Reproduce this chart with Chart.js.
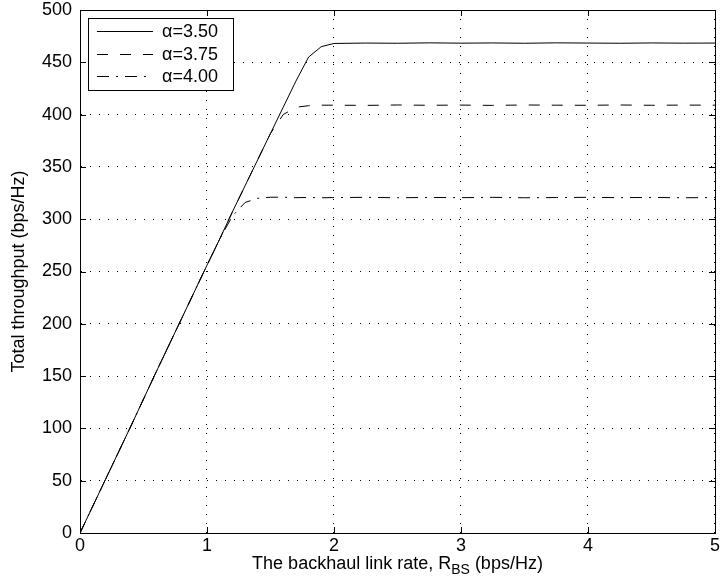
<!DOCTYPE html>
<html>
<head>
<meta charset="utf-8">
<script src="https://cdn.jsdelivr.net/npm/chart.js@4.4.1/dist/chart.umd.min.js"></script>
<style>
  html, body { margin: 0; padding: 0; background: #ffffff; }
</style>
</head>
<body>
<canvas id="chart" width="722" height="577"></canvas>
<script>
// backhaul link rate R_BS (bps/Hz)
var xValues = [0, 0.2, 0.4, 0.6, 0.8, 1.0, 1.1, 1.2, 1.3, 1.4, 1.5, 1.6, 1.7, 1.8, 1.9, 2.0,
               2.25, 2.5, 2.75, 3.0, 3.25, 3.5, 3.75, 4.0, 4.25, 4.5, 4.75, 5.0];
// total throughput (bps/Hz)
var alpha350 = [0, 51, 102, 154, 205, 256, 281, 307, 332, 357, 382, 407, 432, 455, 465, 468,
                468.4, 468.2, 468.6, 468.3, 468.5, 468.2, 468.6, 468.4, 468.2, 468.5, 468.3, 468.4];
var alpha375 = [0, 51, 102, 154, 205, 256, 281, 307, 332, 357, 382, 400, 407, 408.5, 409, 409,
                408.8, 409.2, 408.9, 409.1, 408.8, 409.2, 409, 408.9, 409.2, 408.9, 409.1, 409];
var alpha400 = [0, 51, 102, 154, 205, 256, 281, 303, 316, 320, 321, 321, 320.6, 320.8, 320.5, 320.7,
                320.9, 320.5, 320.8, 320.6, 320.9, 320.5, 320.7, 320.9, 320.6, 320.8, 320.5, 320.7];
var seriesLabels = ['\u03b1=3.50', '\u03b1=3.75', '\u03b1=4.00'];
var xTicks = [0, 1, 2, 3, 4, 5];
var yTicks = [0, 50, 100, 150, 200, 250, 300, 350, 400, 450, 500];

var FONT = '"Liberation Sans", Arial, sans-serif';
var FS = 18;

function pts(ys) {
  return xValues.map(function (x, i) { return { x: x, y: ys[i] }; });
}

var dashes = [[], [11, 12], [12, 7, 2, 7]];

var frame = {
  id: 'frame',
  afterDraw: function (chart) {
    var ctx = chart.ctx, a = chart.chartArea;
    var xs = chart.scales.x, ys = chart.scales.y;
    ctx.save();
    ctx.strokeStyle = '#000';
    ctx.lineWidth = 1;
    ctx.setLineDash([]);
    // box
    ctx.strokeRect(Math.round(a.left) + 0.5, Math.round(a.top) + 0.5,
                   Math.round(a.right - a.left), Math.round(a.bottom - a.top));
    // inward ticks on all sides
    ctx.beginPath();
    xTicks.forEach(function (v) {
      var px = Math.round(xs.getPixelForValue(v)) + 0.5;
      ctx.moveTo(px, a.bottom); ctx.lineTo(px, a.bottom - 6);
      ctx.moveTo(px, a.top); ctx.lineTo(px, a.top + 6);
    });
    yTicks.forEach(function (v) {
      var py = Math.round(ys.getPixelForValue(v)) + 0.5;
      ctx.moveTo(a.left, py); ctx.lineTo(a.left + 6, py);
      ctx.moveTo(a.right, py); ctx.lineTo(a.right - 6, py);
    });
    ctx.stroke();

    // legend
    var lx = 88, ly = 18, lw = 145, lh = 72;
    ctx.fillStyle = '#fff';
    ctx.fillRect(lx, ly, lw, lh);
    ctx.strokeRect(lx + 0.5, ly + 0.5, lw, lh);
    ctx.font = FS + 'px ' + FONT;
    ctx.textBaseline = 'middle';
    ctx.textAlign = 'left';
    chart.data.datasets.forEach(function (ds, i) {
      var ry = Math.round(ly + 13 + i * 22.5) + 0.5;
      ctx.setLineDash(ds.borderDash || []);
      ctx.beginPath();
      ctx.moveTo(97, ry); ctx.lineTo(153, ry);
      ctx.stroke();
      ctx.setLineDash([]);
      ctx.fillStyle = '#000';
      ctx.fillText(ds.label, 162, ry + 1);
    });

    // axis titles
    ctx.fillStyle = '#000';
    var main = 'The backhaul link rate, R';
    var sub = 'BS';
    var tail = ' (bps/Hz)';
    ctx.font = FS + 'px ' + FONT;
    var w1 = ctx.measureText(main).width, w3 = ctx.measureText(tail).width;
    ctx.font = Math.round(FS * 0.75) + 'px ' + FONT;
    var w2 = ctx.measureText(sub).width;
    var total = w1 + w2 + w3;
    var sx = (a.left + a.right) / 2 - total / 2;
    var by = 569;
    ctx.textBaseline = 'alphabetic';
    ctx.font = FS + 'px ' + FONT;
    ctx.fillText(main, sx, by);
    ctx.font = Math.round(FS * 0.75) + 'px ' + FONT;
    ctx.fillText(sub, sx + w1, by + 5);
    ctx.font = FS + 'px ' + FONT;
    ctx.fillText(tail, sx + w1 + w2, by);

    ctx.translate(24, (a.top + a.bottom) / 2);
    ctx.rotate(-Math.PI / 2);
    ctx.textAlign = 'center';
    ctx.fillText('Total throughput (bps/Hz)', 0, 0);
    ctx.restore();
  }
};

var gridOpts = { color: '#000', lineWidth: 1, drawTicks: false };

new Chart(document.getElementById('chart'), {
  type: 'line',
  data: {
    datasets: [
      { label: seriesLabels[0], data: pts(alpha350), borderDash: dashes[0] },
      { label: seriesLabels[1], data: pts(alpha375), borderDash: dashes[1] },
      { label: seriesLabels[2], data: pts(alpha400), borderDash: dashes[2] }
    ].map(function (d) {
      d.borderColor = '#000';
      d.borderWidth = 1;
      d.pointRadius = 0;
      d.tension = 0;
      d.fill = false;
      return d;
    })
  },
  options: {
    responsive: false,
    animation: false,
    devicePixelRatio: 1,
    layout: { padding: { top: 10, right: 6, left: 0, bottom: 0 } },
    plugins: { legend: { display: false }, tooltip: { enabled: false } },
    scales: {
      x: {
        type: 'linear', min: 0, max: 5,
        afterFit: function (s) { s.height = 44; },
        afterBuildTicks: function (s) { s.ticks = xTicks.map(function (v) { return { value: v }; }); },
        grid: gridOpts,
        border: { display: true, color: '#000', width: 1, dash: [1, 8] },
        ticks: { color: '#000', padding: 2, maxRotation: 0, font: { family: FONT, size: FS } }
      },
      y: {
        type: 'linear', min: 0, max: 500,
        afterFit: function (s) { s.width = 80; },
        afterBuildTicks: function (s) { s.ticks = yTicks.map(function (v) { return { value: v }; }); },
        grid: gridOpts,
        border: { display: true, color: '#000', width: 1, dash: [1, 8] },
        ticks: { color: '#000', padding: 8, font: { family: FONT, size: FS, lineHeight: 0.2 } }
      }
    }
  },
  plugins: [frame]
});
</script>
</body>
</html>
